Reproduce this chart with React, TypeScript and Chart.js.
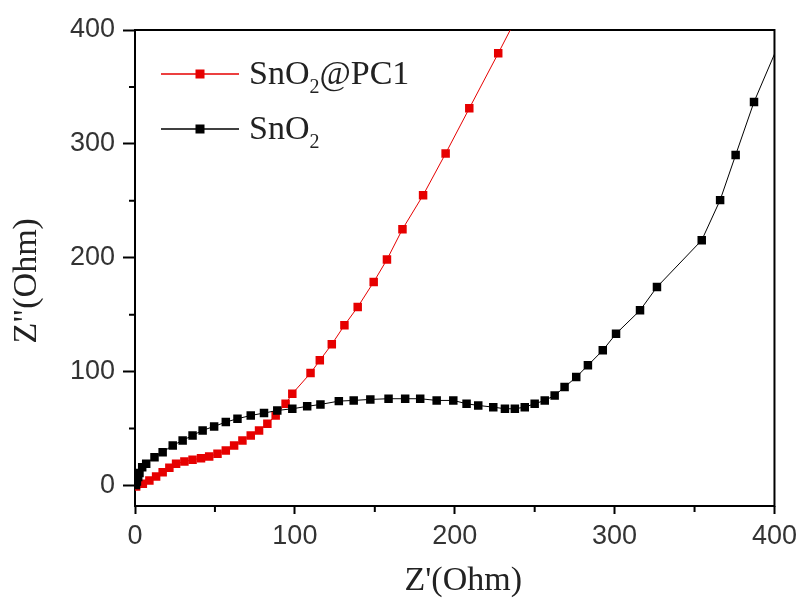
import React, { useEffect, useRef } from "react";
import { Chart, registerables } from "chart.js";

Chart.register(...registerables);

// ---- data ----
const seriesLabels = ["SnO2@PC1", "SnO2"];
const legendParts = [
  ["SnO", "2", "@PC1"],
  ["SnO", "2", ""],
];
const seriesColors = ["#e60000", "#000000"];

const redX = [0.7, 4.9, 9.0, 13.2, 17.3, 21.5, 25.7, 30.9, 36.0, 41.3, 46.4, 51.6, 56.8, 62.0, 67.2, 72.4, 77.6, 82.8, 88.0, 94.2, 98.4, 109.8, 115.6, 123.1, 131.0, 139.3, 149.3, 157.6, 167.3, 180.2, 194.3, 209.1, 227.2, 245.0];
const redY = [-0.9, 1.5, 4.4, 7.9, 11.7, 15.6, 19.1, 21.1, 22.6, 24.0, 25.5, 27.9, 30.8, 35.2, 39.6, 44.0, 48.4, 54.2, 61.5, 71.8, 80.6, 98.7, 109.9, 124.0, 140.7, 156.7, 178.7, 198.4, 225.1, 254.9, 291.6, 331.2, 379.5, 428.0];

const blackX = [0.6, 1.2, 2.0, 2.8, 4.5, 7.0, 12.2, 17.3, 23.6, 29.8, 36.0, 42.3, 49.5, 56.8, 64.1, 72.4, 80.7, 89.0, 98.4, 107.7, 116.0, 127.5, 136.8, 147.2, 158.6, 169.0, 178.4, 188.7, 199.1, 207.4, 214.7, 224.1, 231.4, 237.6, 243.8, 250.0, 256.3, 262.5, 268.7, 276.0, 283.3, 292.6, 300.9, 315.9, 326.5, 354.5, 366.0, 375.7, 387.2, 404.0];
const blackY = [0.5, 3.5, 7.5, 11.0, 16.0, 19.1, 24.9, 29.3, 35.2, 39.6, 44.0, 48.4, 51.9, 55.7, 58.6, 61.5, 63.6, 65.9, 67.4, 69.5, 71.2, 74.1, 74.7, 75.6, 76.2, 76.2, 76.2, 74.7, 74.7, 71.8, 70.3, 68.8, 67.4, 67.4, 68.8, 71.8, 74.7, 79.1, 86.4, 95.2, 105.5, 118.7, 133.3, 153.8, 174.3, 215.4, 250.6, 290.2, 336.8, 392.0];

const xTicks = [0, 100, 200, 300, 400];
const yTicks = [0, 100, 200, 300, 400];
const xMinorTicks = [50, 150, 250, 350];
const yMinorTicks = [50, 150, 250, 350];
const xTitle = "  Z'(Ohm)";
const yTitle = 'Z"(Ohm)   ';

const toPoints = (xs: number[], ys: number[]) => xs.map((x, i) => ({ x, y: ys[i] }));

const framePlugin = {
  id: "frameAndMinor",
  beforeDatasetsDraw(chart: any) {
    const { ctx, chartArea: a, scales } = chart;
    ctx.save();
    ctx.strokeStyle = "#000";
    ctx.lineWidth = 2;
    ctx.strokeRect(a.left, a.top, a.right - a.left, a.bottom - a.top);
    ctx.lineWidth = 2;
    ctx.beginPath();
    xMinorTicks.forEach((v) => {
      const px = scales.x.getPixelForValue(v);
      ctx.moveTo(px, a.bottom);
      ctx.lineTo(px, a.bottom + 6);
    });
    yMinorTicks.forEach((v) => {
      const py = scales.y.getPixelForValue(v);
      ctx.moveTo(a.left, py);
      ctx.lineTo(a.left - 6, py);
    });
    ctx.stroke();
    ctx.restore();
  },
};

const legendPlugin = {
  id: "customLegend",
  afterDraw(chart: any) {
    const { ctx, chartArea: a } = chart;
    ctx.save();
    legendParts.forEach((parts, i) => {
      const y = a.top + 44 + i * 55;
      const x0 = a.left + 26;
      const x1 = a.left + 104;
      ctx.strokeStyle = seriesColors[i];
      ctx.lineWidth = 1.5;
      ctx.beginPath();
      ctx.moveTo(x0, y);
      ctx.lineTo(x1, y);
      ctx.stroke();
      ctx.fillStyle = seriesColors[i];
      const s = 9;
      ctx.fillRect((x0 + x1) / 2 - s / 2, y - s / 2, s, s);
      let tx = a.left + 114;
      const base = y + 10;
      ctx.fillStyle = "#222";
      ctx.textBaseline = "alphabetic";
      ctx.textAlign = "left";
      ctx.font = '34px "Liberation Serif"';
      ctx.fillText(parts[0], tx, base);
      tx += ctx.measureText(parts[0]).width;
      ctx.font = '20px "Liberation Serif"';
      ctx.fillText(parts[1], tx, base + 9);
      tx += ctx.measureText(parts[1]).width;
      ctx.font = '34px "Liberation Serif"';
      if (parts[2]) ctx.fillText(parts[2], tx, base);
    });
    ctx.restore();
  },
};

export default function App() {
  const ref = useRef<HTMLCanvasElement | null>(null);
  useEffect(() => {
    if (!ref.current) return;
    const chart = new Chart(ref.current, {
      type: "scatter",
      data: {
        datasets: [
          {
            label: seriesLabels[0],
            data: toPoints(redX, redY),
            showLine: true,
            borderColor: seriesColors[0],
            backgroundColor: seriesColors[0],
            borderWidth: 1,
            pointStyle: "rect",
            pointRadius: 6,
            pointBorderWidth: 0,
            order: 1,
          },
          {
            label: seriesLabels[1],
            data: toPoints(blackX, blackY),
            showLine: true,
            borderColor: seriesColors[1],
            backgroundColor: seriesColors[1],
            borderWidth: 1,
            pointStyle: "rect",
            pointRadius: 6,
            pointBorderWidth: 0,
            order: 0,
          },
        ],
      },
      options: {
        animation: false,
        responsive: false,
        maintainAspectRatio: false,
        layout: { padding: { left: 0, top: 30, right: 26, bottom: 0 } },
        plugins: { legend: { display: false }, tooltip: { enabled: false } },
        scales: {
          x: {
            type: "linear",
            min: 0,
            max: 400,
            afterBuildTicks: (scale: any) => {
              scale.ticks = xTicks.map((v) => ({ value: v }));
            },
            afterFit: (scale: any) => {
              scale.height = 92;
            },
            border: { display: false },
            grid: {
              display: true,
              drawOnChartArea: false,
              drawTicks: true,
              tickLength: 8,
              tickColor: "#000",
              tickWidth: 2,
            },
            ticks: {
              padding: 6,
              color: "#333",
              maxRotation: 0,
              font: { family: '"Liberation Sans"', size: 27 },
            },
            title: {
              display: true,
              text: xTitle,
              color: "#222",
              padding: { top: 0, bottom: 0 },
              font: { family: '"Liberation Serif"', size: 34, lineHeight: 1 },
            },
          },
          y: {
            type: "linear",
            min: -18,
            max: 400,
            afterBuildTicks: (scale: any) => {
              scale.ticks = yTicks.map((v) => ({ value: v }));
            },
            afterFit: (scale: any) => {
              scale.width = 135;
            },
            border: { display: false },
            grid: {
              display: true,
              drawOnChartArea: false,
              drawTicks: true,
              tickLength: 12,
              tickColor: "#000",
              tickWidth: 2,
            },
            ticks: {
              padding: 8,
              color: "#333",
              font: { family: '"Liberation Sans"', size: 27 },
            },
            title: {
              display: true,
              text: yTitle,
              color: "#222",
              padding: { top: 10, bottom: 0 },
              font: { family: '"Liberation Serif"', size: 34, lineHeight: 1 },
            },
          },
        },
      },
      plugins: [framePlugin, legendPlugin],
    } as any);
    return () => chart.destroy();
  }, []);
  return (
    <div style={{ position: "fixed", left: 0, top: 0, width: 803, height: 598, background: "#fff" }}>
      <canvas ref={ref} width={803} height={598} style={{ width: 803, height: 598, display: "block" }} />
    </div>
  );
}
